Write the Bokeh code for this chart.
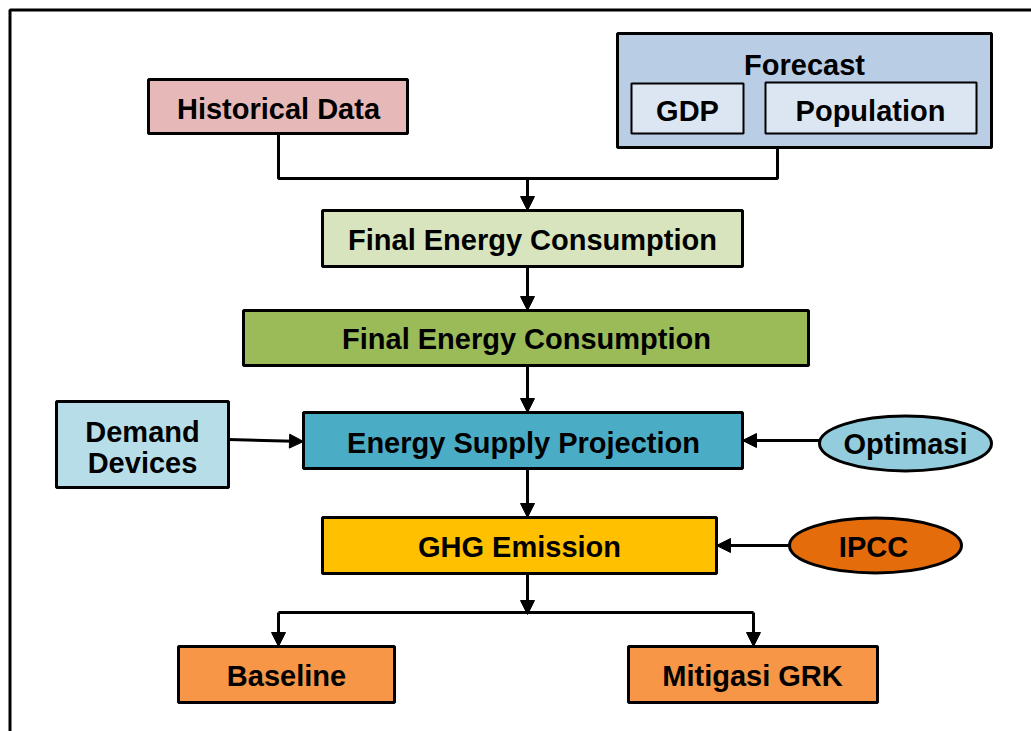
from bokeh.plotting import figure
from bokeh.models import Range1d, Arrow, NormalHead
from bokeh.core.properties import value
from bokeh.embed import file_html
from bokeh.resources import INLINE

# ---- content (labels / colours) ----
rect_labels = ["Historical Data", "Forecast", "GDP", "Population",
               "Final Energy Consumption", "Final Energy Consumption",
               "Energy Supply Projection", "Demand Devices",
               "GHG Emission", "Baseline", "Mitigasi GRK"]
rect_colors = ["#E6B9B8", "#B9CDE5", "#DCE6F2", "#DCE6F2",
               "#D7E4BD", "#9BBB59", "#4BACC6", "#B7DEE8",
               "#FFC000", "#F79646", "#F79646"]
oval_labels = ["Optimasi", "IPCC"]
oval_colors = ["#93CDDD", "#E46C0A"]

# ---- layout (pixel coordinates, y downward) ----
rect_box = {  # left, right, top, bottom
    0: (148, 407, 79, 133),
    1: (617, 991, 33, 147),
    2: (631, 743, 83, 133),
    3: (765, 976, 82, 133),
    4: (322, 742, 210, 266),
    5: (243, 808, 310, 365),
    6: (303, 742, 412, 468),
    7: (56, 228, 401, 487),
    8: (322, 716, 517, 573),
    9: (178, 394, 646, 702),
    10: (628, 877, 646, 702),
}
rect_lw = {2: 2, 3: 2}
# text anchor: list of (x, middle_y) per line
rect_text = {
    0: [(278, 108)],
    1: [(804, 64)],
    2: [(687, 110)],
    3: [(870, 110)],
    4: [(532, 239)],
    5: [(526, 338)],
    6: [(523, 442)],
    7: [(142, 431), (142, 462)],
    8: [(519, 546)],
    9: [(286, 675)],
    10: [(752, 675)],
}
oval_geom = {0: (905, 443, 172, 55), 1: (875, 545, 172, 55)}
oval_text = {0: (905, 443), 1: (873, 546)}

W, H = 1031, 731
p = figure(width=W, height=H, x_range=Range1d(0, W), y_range=Range1d(H, 0),
           output_backend="svg", toolbar_location=None, min_border=0,
           x_axis_location=None, y_axis_location=None)
p.grid.visible = False
p.outline_line_color = None
p.background_fill_color = "white"
p.border_fill_color = "white"

# outer frame
p.line([9.5, 9.5, 1040], [740, 9.5, 9.5], line_width=3, line_color="black")

FONT = value("Liberation Sans")
FS = "29px"

# connectors (plain lines)
p.line([278, 278, 777, 777], [133, 178, 178, 147], line_width=3, line_color="black")
p.line([278, 753], [612, 612], line_width=3, line_color="black")

def arrow(x0, y0, x1, y1):
    p.add_layout(Arrow(end=NormalHead(size=14, fill_color="black", line_color="black", line_width=1),
                       x_start=x0, y_start=y0, x_end=x1, y_end=y1,
                       line_width=3, line_color="black"))

arrow(527, 178, 527, 210)
arrow(527, 266, 527, 310)
arrow(527, 365, 527, 412)
arrow(228, 439, 303, 441)
arrow(819, 440, 742, 440)
arrow(527, 468, 527, 517)
arrow(789, 545, 716, 545)
arrow(527, 573, 527, 614)
arrow(278, 612, 278, 646)
arrow(753, 612, 753, 646)

# boxes
for i, lab in enumerate(rect_labels):
    l, r, t, b = rect_box[i]
    p.quad(left=[l], right=[r], top=[t], bottom=[b], fill_color=rect_colors[i],
           line_color="black", line_width=rect_lw.get(i, 3))
    lines = lab.split(" ") if len(rect_text[i]) > 1 else [lab]
    for (tx, ty), s in zip(rect_text[i], lines):
        p.text(x=[tx], y=[ty], text=[s], text_font=FONT, text_font_style="bold",
               text_font_size=FS, text_align="center", text_baseline="middle",
               text_color="black")

for i, lab in enumerate(oval_labels):
    cx, cy, w, h = oval_geom[i]
    p.ellipse(x=[cx], y=[cy], width=[w], height=[h], fill_color=oval_colors[i],
              line_color="black", line_width=3)
    tx, ty = oval_text[i]
    p.text(x=[tx], y=[ty], text=[lab], text_font=FONT, text_font_style="bold",
           text_font_size=FS, text_align="center", text_baseline="middle",
           text_color="black")

open("out.html", "w").write(file_html(p, INLINE))
